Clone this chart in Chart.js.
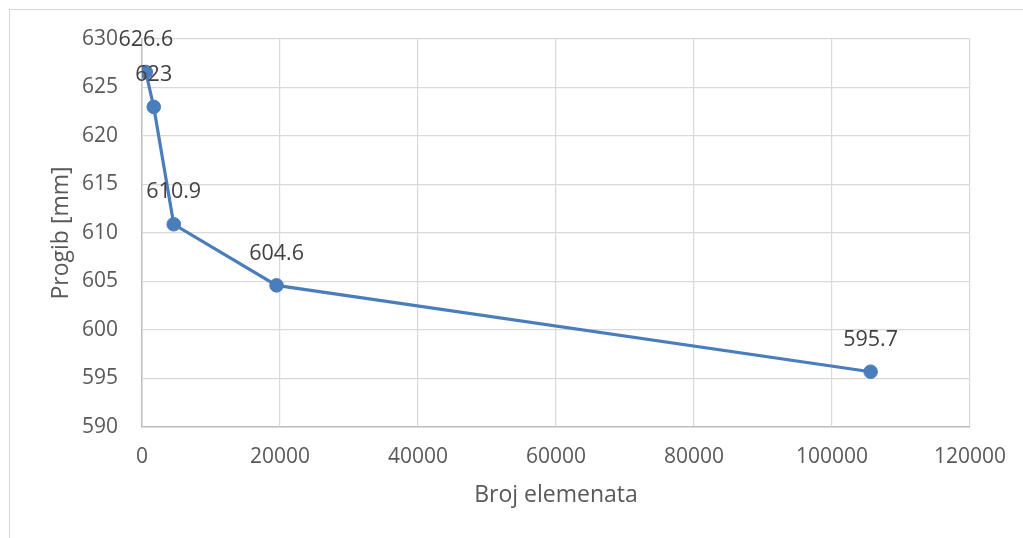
<!DOCTYPE html>
<html>
<head>
<meta charset="utf-8">
<script src="https://cdn.jsdelivr.net/npm/chart.js@4.4.1/dist/chart.umd.min.js"></script>
<style>
html,body{margin:0;padding:0;background:#fff;overflow:hidden;}
#wrap{position:relative;width:1023px;height:538px;}
#frame{position:absolute;left:9px;top:9px;width:1040px;height:560px;border:1px solid #d9d9d9;box-sizing:border-box;}
canvas{position:absolute;left:0;top:0;}
</style>
</head>
<body>
<div id="wrap">
<div id="frame"></div>
<canvas id="c" width="1023" height="538"></canvas>
</div>
<script>
const elementCounts = [550, 1700, 4600, 19500, 105600];
const deflections = [626.6, 623, 610.9, 604.6, 595.7];
const xTitle = 'Broj elemenata';
const yTitle = 'Progib [mm]';

const points = elementCounts.map((x, i) => ({x: x, y: deflections[i]}));

const labelPlugin = {
  id: 'pointLabels',
  afterDatasetsDraw(chart) {
    const ctx = chart.ctx;
    const meta = chart.getDatasetMeta(0);
    ctx.save();
    ctx.font = '21.5px "Open Sans"';
    ctx.fillStyle = '#404040';
    ctx.textAlign = 'center';
    ctx.textBaseline = 'middle';
    meta.data.forEach((el, i) => {
      ctx.fillText(String(deflections[i]), el.x, el.y - 32);
    });
    ctx.restore();
  }
};

new Chart(document.getElementById('c'), {
  type: 'scatter',
  data: {
    datasets: [{
      data: points,
      showLine: true,
      borderColor: '#4a7dbb',
      backgroundColor: '#4a7dbb',
      borderWidth: 3.2,
      pointRadius: 6.8,
      pointHoverRadius: 6.8,
      pointBorderWidth: 1,
      pointBorderColor: '#4a7dbb',
      pointBackgroundColor: '#4a7dbb'
    }]
  },
  options: {
    responsive: false,
    animation: false,
    events: [],
    layout: {padding: {left: 48, top: 39, right: 51, bottom: 29}},
    plugins: {legend: {display: false}, tooltip: {enabled: false}},
    scales: {
      x: {
        type: 'linear',
        min: 0, max: 120000,
        afterFit(s) { s.height = 82; },
        ticks: {stepSize: 20000, padding: 17, color: '#595959', font: {family: 'Open Sans', size: 21}, callback: v => String(v), maxRotation: 0},
        grid: {color: '#d9d9d9', lineWidth: 1.2, drawTicks: false},
        border: {color: '#bfbfbf', width: 1.5},
        title: {display: true, text: xTitle, color: '#595959', font: {family: 'Open Sans', size: 23}, padding: 0}
      },
      y: {
        type: 'linear',
        min: 590, max: 630,
        afterFit(s) { s.width = 94; },
        ticks: {stepSize: 5, padding: 24, color: '#595959', font: {family: 'Open Sans', size: 21}},
        grid: {color: '#d9d9d9', lineWidth: 1.2, drawTicks: false},
        border: {color: '#bfbfbf', width: 1.5},
        title: {display: true, text: yTitle, color: '#595959', font: {family: 'Open Sans', size: 23}, padding: 0}
      }
    }
  },
  plugins: [labelPlugin]
});
</script>
</body>
</html>
